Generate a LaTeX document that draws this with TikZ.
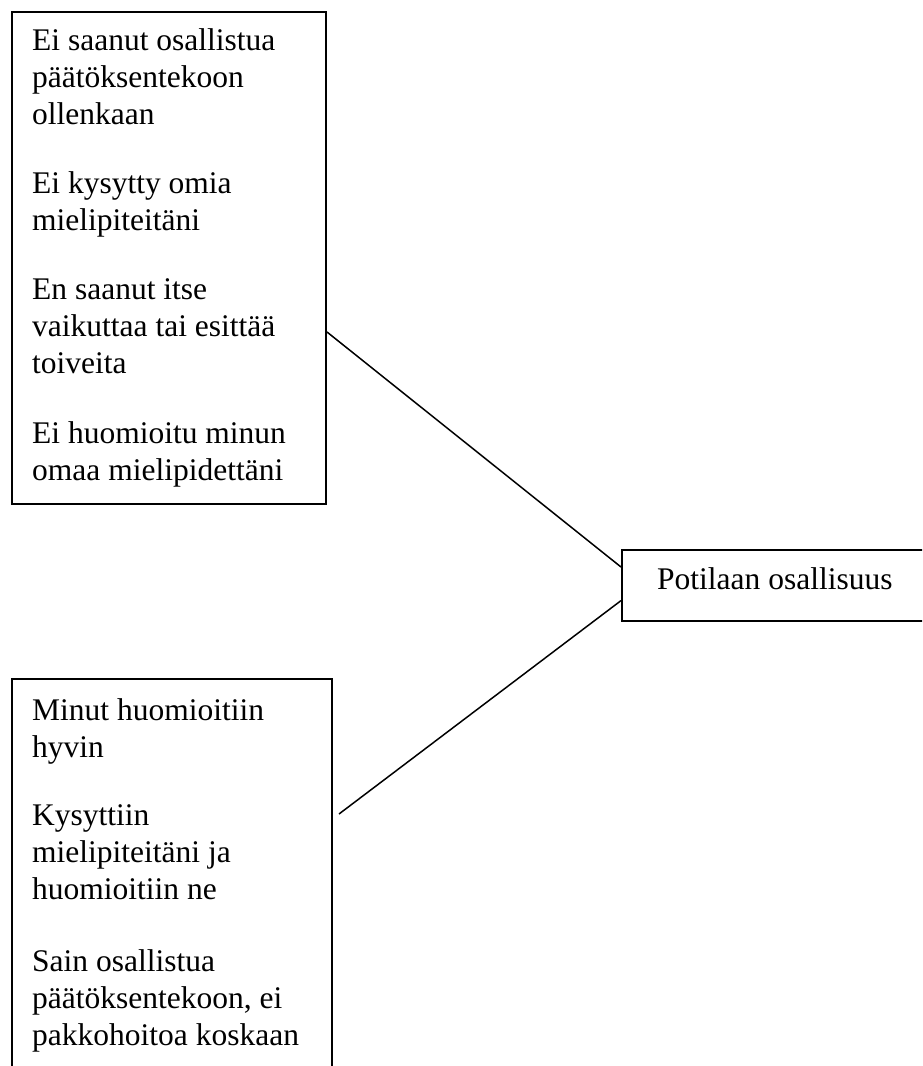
\documentclass[tikz,border=0pt]{standalone}
\usepackage{fontspec}
\setmainfont{Liberation Serif}
\begin{document}
\begin{tikzpicture}[x=1pt,y=-1pt,
  box/.style={draw, line width=1.6pt, rectangle, inner sep=0pt, anchor=north west},
  txt/.style={anchor=base west, inner sep=0pt, font=\fontsize{31.5}{37.2}\selectfont},
  link/.style={line width=1.5pt}]
\useasboundingbox (0,0) rectangle (922,1066);
\clip (0,0) rectangle (922,1066);
\node[box, minimum width=314pt, minimum height=492pt] (neg) at (11,11) {};
\node[box, minimum width=320pt, minimum height=430pt] (pos) at (11,678) {};
\node[box, minimum width=320pt, minimum height=71pt] (pot) at (621,549) {};
\node[txt] (negt) at (32,50) {\vtop{\hbox{Ei saanut osallistua}\hbox{päätöksentekoon}\hbox{ollenkaan}\vskip32pt
\hbox{Ei kysytty omia}\hbox{mielipiteitäni}\vskip31pt
\hbox{En saanut itse}\hbox{vaikuttaa tai esittää}\hbox{toiveita}\vskip33pt
\hbox{Ei huomioitu minun}\hbox{omaa mielipidettäni}}};
\node[txt] (post) at (32,720) {\vtop{\hbox{Minut huomioitiin}\hbox{hyvin}\vskip31pt
\hbox{Kysyttiin}\hbox{mielipiteitäni ja}\hbox{huomioitiin ne}\vskip34pt
\hbox{Sain osallistua}\hbox{päätöksentekoon, ei}\hbox{pakkohoitoa koskaan}}};
\node[txt] (pott) at (657,589) {Potilaan osallisuus};
\coordinate (a1) at (327,332);
\coordinate (a2) at (339,814);
\draw[link] (a1) -- ([yshift=-18pt]pot.north west);
\draw[link] (a2) -- ([yshift=21pt]pot.south west);
\end{tikzpicture}
\end{document}
